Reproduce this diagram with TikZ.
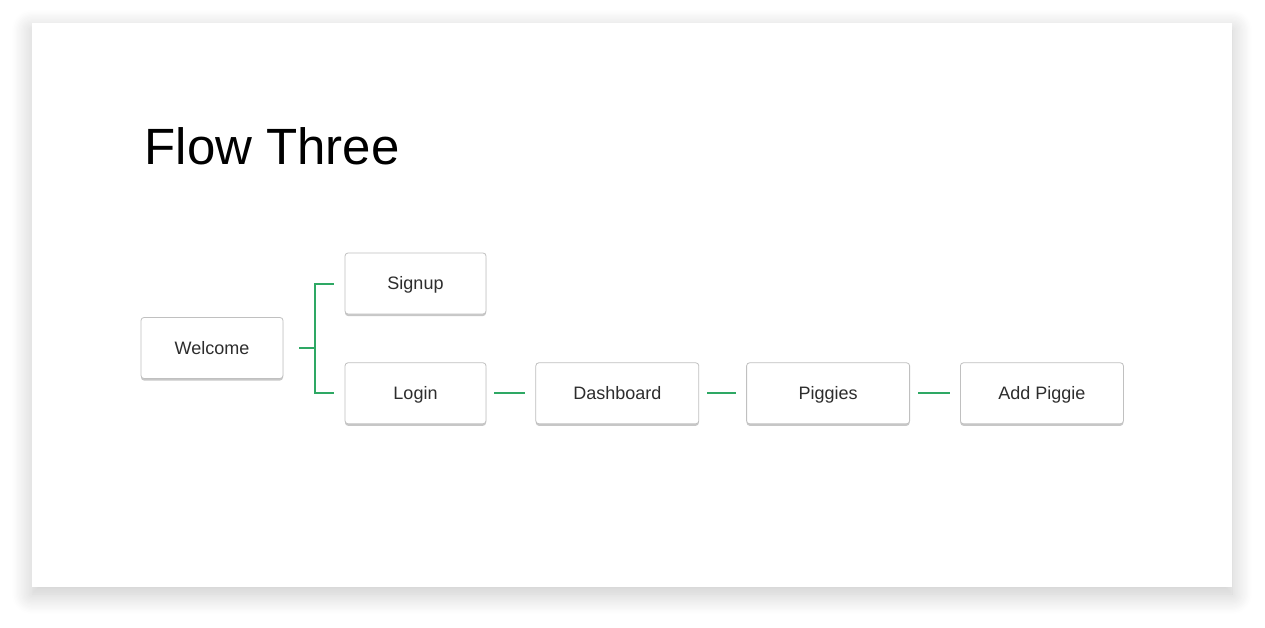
\documentclass[tikz,border=0pt]{standalone}
\usepackage{fontspec}
\setmainfont{Liberation Sans}
\usetikzlibrary{positioning, shadows, shadows.blur}
\definecolor{linkgreen}{RGB}{46,168,100}
\definecolor{boxline}{RGB}{192,192,192}
\definecolor{txt}{RGB}{45,45,45}
\tikzstyle{screen} = [draw=boxline, line width=0.8pt, fill=white, rounded corners=3pt,
    minimum height=61pt, inner sep=0pt, text=txt, font=\fontsize{18}{22}\selectfont,
    text height=12.9pt, text depth=0pt,
    drop shadow={shadow xshift=0pt, shadow yshift=-2pt, fill=black, opacity=0.22}]
\tikzstyle{link} = [draw=linkgreen, line width=2pt]

\begin{document}
\begin{tikzpicture}[x=1pt, y=-1pt, node distance=48pt and 48pt]

    \useasboundingbox (0,0) rectangle (1265,628);
    \fill[white, blur shadow={shadow xshift=0pt, shadow yshift=-7pt, shadow blur radius=20pt, shadow opacity=22, shadow blur steps=16}]
        (32,23) rectangle (1232,587);

    \node[anchor=base west, font=\fontsize{51}{60}\selectfont] (title) at (141,165) {Flow Three};

    \node[screen, minimum width=142pt] (Welcome) at (212,348) {Welcome};
    \node[screen, minimum width=141pt] (Signup) at (415.5,283.5) {Signup};
    \node[screen, minimum width=141pt, below=of Signup] (Login) {Login};
    \node[screen, minimum width=163pt, right=49pt of Login] (Dashboard) {Dashboard};
    \node[screen, minimum width=163pt, right=47pt of Dashboard] (Piggies) {Piggies};
    \node[screen, minimum width=163pt, right=50pt of Piggies] (Add) {Add Piggie};

    % branch from Welcome
    \coordinate (fork) at ([xshift=32pt]Welcome.east);
    \draw[link] ([xshift=16pt]Welcome.east) -- (fork);
    \draw[link, line join=miter] ([xshift=-11pt]Signup.west) -| (fork) |- ([xshift=-11pt]Login.west);

    \path[link, shorten <=8pt, shorten >=10pt]
        (Login) edge (Dashboard)
        (Dashboard) edge (Piggies)
        (Piggies) edge (Add)
    ;

\end{tikzpicture}
\end{document}
